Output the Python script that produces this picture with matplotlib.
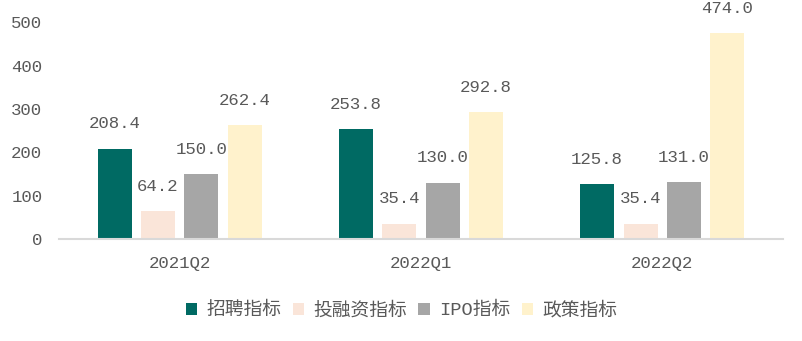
import numpy as np
import matplotlib.pyplot as plt

plt.rcParams['font.family'] = ['Liberation Mono', 'Noto Sans CJK SC']

quarters = ['2021Q2', '2022Q1', '2022Q2']
series_names = ['招聘指标', '投融资指标', 'IPO指标', '政策指标']
values = [
    [208.4, 253.8, 125.8],
    [64.2, 35.4, 35.4],
    [150.0, 130.0, 131.0],
    [262.4, 292.8, 474.0],
]
colors = ['#006A63', '#FAE5D9', '#A6A6A6', '#FFF2CC']
txt = '#595959'

fig = plt.figure(figsize=(8.03, 3.41), dpi=100)
ax = fig.add_axes([0.0735, 0.299, 0.9015, 0.636])

x = np.arange(len(quarters))
w = 0.141
step = 0.18
for i in range(4):
    pos = x + (i - 1.5) * step
    ax.bar(pos, values[i], width=w, color=colors[i], label=series_names[i])
    for p, v in zip(pos, values[i]):
        ax.text(p, v + 40, f'{v:.1f}', ha='center', va='bottom', fontsize=12.5, color=txt)

ax.set_xlim(-0.5, 2.5)
ax.set_ylim(0, 500)
ax.set_yticks([0, 100, 200, 300, 400, 500])
ax.set_xticks(x)
ax.set_xticklabels(quarters)
ax.tick_params(axis='both', length=0, labelsize=12.5, colors=txt)
ax.tick_params(axis='y', pad=12)
ax.tick_params(axis='x', pad=12)
for s in ['top', 'right', 'left']:
    ax.spines[s].set_visible(False)
ax.spines['bottom'].set_color('#D9D9D9')
ax.spines['bottom'].set_linewidth(1.5)

leg = fig.legend(loc='center', bbox_to_anchor=(0.5, 0.09), ncol=4, frameon=False,
                 fontsize=13.5, handlelength=0.6, handleheight=0.6, handletextpad=0.5,
                 columnspacing=0.6)
for t in leg.get_texts():
    t.set_color(txt)

fig.savefig('out.png', dpi=100)
